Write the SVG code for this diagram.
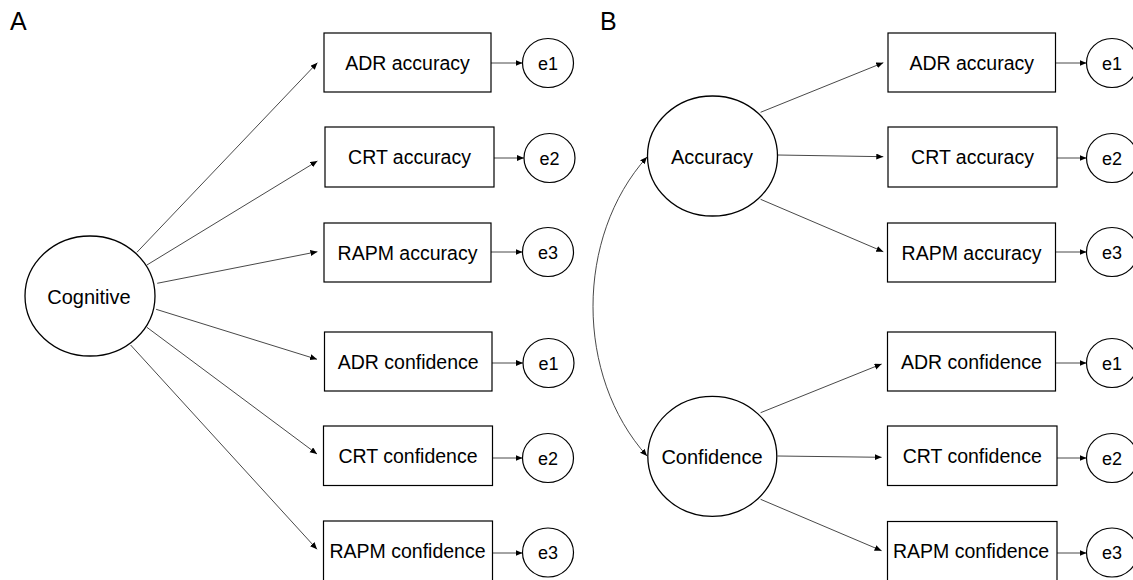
<svg xmlns="http://www.w3.org/2000/svg" width="1133" height="580" viewBox="0 0 1133 580">
<style>
text{font-family:"Liberation Sans",Arial,sans-serif;fill:#000;text-anchor:middle}
.box{fill:#fff;stroke:#000;stroke-width:1.2}
.lat{fill:#fff;stroke:#000;stroke-width:1.3}
.err{fill:#fff;stroke:#000;stroke-width:1.2}
.lbl{font-size:19.5px}
.lt{font-size:20px}
.et{font-size:18px}
.panel{font-size:25px;text-anchor:start}
.con line,.con path{stroke:#333;stroke-width:0.9;fill:none;marker-end:url(#ah)}
</style>
<defs>
<marker id="ah" markerUnits="userSpaceOnUse" markerWidth="8" markerHeight="7" refX="7" refY="3" orient="auto-start-reverse">
<path d="M0,0 L7,3 L0,6 z" fill="#000"/>
</marker>
</defs>
<rect width="1133" height="580" fill="#fff"/>
<text class="panel" x="10" y="30">A</text>
<text class="panel" x="600" y="30">B</text>

<g class="con" id="connectors">
<line x1="136.9" y1="252.3" x2="317.4" y2="62.7"/>
<line x1="146.9" y1="265" x2="317.4" y2="161"/>
<line x1="157.2" y1="283.3" x2="317.4" y2="251.7"/>
<line x1="156.1" y1="309.3" x2="317" y2="359.3"/>
<line x1="146.9" y1="327.3" x2="317" y2="454"/>
<line x1="130.6" y1="345" x2="317" y2="549.3"/>
<line x1="491" y1="63" x2="522.5" y2="63"/>
<line x1="494" y1="158" x2="524" y2="158"/>
<line x1="491" y1="252" x2="522.5" y2="252"/>
<line x1="492" y1="363" x2="523" y2="363"/>
<line x1="492.5" y1="458" x2="522.5" y2="458"/>
<line x1="492.5" y1="553" x2="522.5" y2="553"/>
<line x1="760.6" y1="112.3" x2="883.3" y2="62.7"/>
<line x1="777.5" y1="155" x2="883.3" y2="156.7"/>
<line x1="760.6" y1="199.3" x2="883.3" y2="251.7"/>
<line x1="760.6" y1="412.7" x2="881.6" y2="364"/>
<line x1="777.5" y1="456" x2="881.6" y2="457.3"/>
<line x1="760.6" y1="499.3" x2="881.6" y2="550.7"/>
<line x1="1055.5" y1="63" x2="1086.5" y2="63"/>
<line x1="1057" y1="158" x2="1086.5" y2="158"/>
<line x1="1055.5" y1="252" x2="1086.5" y2="252"/>
<line x1="1055.5" y1="363" x2="1086.5" y2="363"/>
<line x1="1057" y1="458" x2="1086.5" y2="458"/>
<line x1="1057" y1="553" x2="1086.5" y2="553"/>
<path d="M647,456 C575,376 575,237 647,157" style="marker-start:url(#ah)"/>
</g>

<g id="cognitive"><ellipse class="lat" cx="90" cy="296" rx="65" ry="60"/><text class="lt" x="89" y="304">Cognitive</text></g>
<g id="a-adr-acc"><rect class="box" x="324" y="33" width="167" height="59"/><text class="lbl" x="407.5" y="69.5">ADR accuracy</text></g>
<g id="a-crt-acc"><rect class="box" x="325" y="127" width="169" height="60"/><text class="lbl" x="409.5" y="164">CRT accuracy</text></g>
<g id="a-rapm-acc"><rect class="box" x="324" y="223" width="167" height="59"/><text class="lbl" x="407.5" y="259.5">RAPM accuracy</text></g>
<g id="a-adr-conf"><rect class="box" x="324.5" y="332" width="167.5" height="59"/><text class="lbl" x="408.2" y="368.5">ADR confidence</text></g>
<g id="a-crt-conf"><rect class="box" x="323.5" y="426" width="169" height="59.5"/><text class="lbl" x="408" y="462.7">CRT confidence</text></g>
<g id="a-rapm-conf"><rect class="box" x="323.5" y="521" width="169" height="62"/><text class="lbl" x="407.5" y="557.7">RAPM confidence</text></g>
<g id="a-e1"><ellipse class="err" cx="548" cy="63" rx="25.5" ry="24.5"/><text class="et" x="548" y="69.5">e1</text></g>
<g id="a-e2"><ellipse class="err" cx="549.5" cy="158" rx="25.5" ry="24.5"/><text class="et" x="549.5" y="164.5">e2</text></g>
<g id="a-e3"><ellipse class="err" cx="548" cy="252" rx="25.5" ry="24.5"/><text class="et" x="548" y="258.5">e3</text></g>
<g id="a-e4"><ellipse class="err" cx="548.5" cy="363" rx="25.5" ry="24.5"/><text class="et" x="548.5" y="369.5">e1</text></g>
<g id="a-e5"><ellipse class="err" cx="548" cy="458" rx="25.5" ry="24.5"/><text class="et" x="548" y="464.5">e2</text></g>
<g id="a-e6"><ellipse class="err" cx="548" cy="552.5" rx="25.5" ry="24.5"/><text class="et" x="548" y="559">e3</text></g>

<g id="accuracy"><ellipse class="lat" cx="712.5" cy="156" rx="65" ry="60"/><text class="lt" x="712" y="163.5">Accuracy</text></g>
<g id="confidence"><ellipse class="lat" cx="712.3" cy="456.3" rx="64.5" ry="60"/><text class="lt" x="712" y="464">Confidence</text></g>
<g id="b-adr-acc"><rect class="box" x="888" y="33" width="167.5" height="59"/><text class="lbl" x="971.7" y="69.5">ADR accuracy</text></g>
<g id="b-crt-acc"><rect class="box" x="888" y="127" width="169" height="60"/><text class="lbl" x="972.5" y="164">CRT accuracy</text></g>
<g id="b-rapm-acc"><rect class="box" x="887.5" y="223" width="168" height="59"/><text class="lbl" x="971.5" y="259.5">RAPM accuracy</text></g>
<g id="b-adr-conf"><rect class="box" x="887.5" y="332" width="168" height="59"/><text class="lbl" x="971.5" y="368.5">ADR confidence</text></g>
<g id="b-crt-conf"><rect class="box" x="887.5" y="426" width="169.5" height="59.5"/><text class="lbl" x="972.2" y="462.7">CRT confidence</text></g>
<g id="b-rapm-conf"><rect class="box" x="887.5" y="521.5" width="169.5" height="62"/><text class="lbl" x="971" y="557.7">RAPM confidence</text></g>
<g id="b-e1"><ellipse class="err" cx="1112" cy="63" rx="25.5" ry="24.5"/><text class="et" x="1112" y="69.5">e1</text></g>
<g id="b-e2"><ellipse class="err" cx="1112" cy="158" rx="25.5" ry="24.5"/><text class="et" x="1112" y="164.5">e2</text></g>
<g id="b-e3"><ellipse class="err" cx="1112" cy="252" rx="25.5" ry="24.5"/><text class="et" x="1112" y="258.5">e3</text></g>
<g id="b-e4"><ellipse class="err" cx="1112" cy="363" rx="25.5" ry="24.5"/><text class="et" x="1112" y="369.5">e1</text></g>
<g id="b-e5"><ellipse class="err" cx="1112" cy="458" rx="25.5" ry="24.5"/><text class="et" x="1112" y="464.5">e2</text></g>
<g id="b-e6"><ellipse class="err" cx="1112" cy="552.5" rx="25.5" ry="24.5"/><text class="et" x="1112" y="559">e3</text></g>
</svg>
